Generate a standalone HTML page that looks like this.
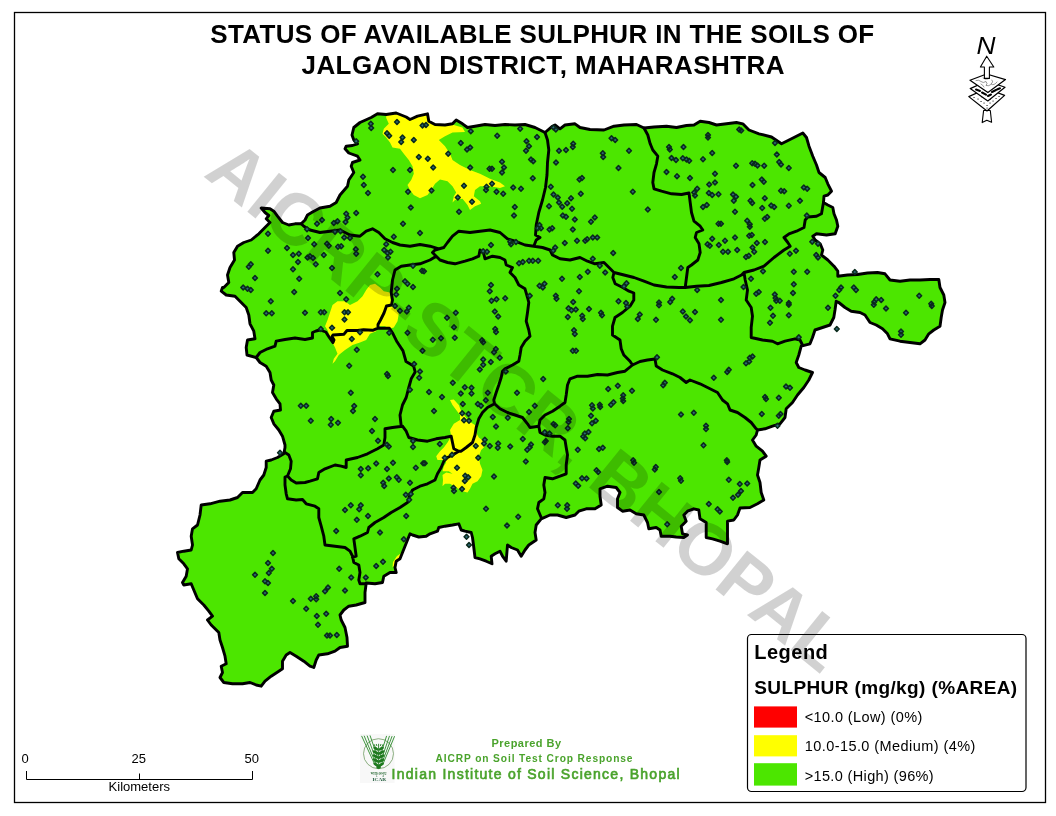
<!DOCTYPE html>
<html><head><meta charset="utf-8"><title>Status of Available Sulphur - Jalgaon</title>
<style>html,body{margin:0;padding:0;background:#fff}body{width:1056px;height:816px;position:relative;overflow:hidden;font-family:"Liberation Sans",Arial,sans-serif}</style></head>
<body>
<svg width="1056" height="816" viewBox="0 0 1056 816" style="position:absolute;left:0;top:0;font-family:'Liberation Sans',Arial,sans-serif">
<defs><clipPath id="mapclip"><path d="M261.2,208 L270,208.8 L273.8,211.2 L277.5,216.2 L282.5,222.5 L288.8,225 L295,223.8 L301.2,223.8 L305,220 L307.5,215 L312.5,212 L320,208 L330,206.2 L336.2,202.5 L340,195 L347.5,186.2 L348.8,180 L353.8,172.5 L351.2,166.2 L352.5,162.5 L360,160 L357.5,156.2 L348.8,153 L345,148.8 L346.2,146.2 L352.5,145.5 L357.5,143.8 L353.8,140 L352,135 L353.8,127.5 L360,122.5 L371.2,117.5 L377.5,113.8 L386.2,114.5 L396.2,113 L406.2,117 L410,119.5 L417.5,116.2 L427.5,113.8 L428.8,121.2 L435,124.5 L445,125 L452.5,123.8 L456.2,120 L462.5,123.8 L467.5,127.5 L475,126.2 L485,124.5 L495,125.5 L505,124.5 L515,125 L525,124.5 L535,127.5 L545,132.5 L552.5,126.2 L555,125 L560,128.8 L565,125 L575,123.8 L580,127.5 L590,129.5 L604,130 L614,126.2 L624,125 L636.5,124.5 L644,128 L654,127 L666.5,126.2 L676.5,127.5 L686.5,125.5 L694,125 L700.2,121.2 L709,122.5 L716.5,125 L726.5,123.8 L736.5,122.5 L742.8,123.8 L749,130 L759,133.8 L771.5,137 L781.5,143.8 L791.5,138.8 L802.8,133 L806.5,137.5 L809,146.2 L812.8,156.2 L816.5,165 L819,172.5 L825.2,177.5 L827.8,183.8 L831.5,191.2 L827.8,195 L824,196.2 L823.5,202.5 L827.8,205 L832.8,207.5 L834,213.8 L836.5,220 L837.8,226.2 L835.2,233.8 L826.5,235 L816.5,233.8 L812.8,236.2 L815.2,240 L820.2,243.8 L822.8,250 L821.5,255 L827.8,260 L834,266.2 L837.8,271.2 L837.8,276.2 L847.5,275 L857.5,274.5 L867.5,273 L877.5,272.5 L885,273.8 L890,280 L900,281.2 L910,280 L920,280 L930,279.5 L938.8,279.5 L940,287.5 L943.8,295 L945,302.5 L942.5,310 L941.2,317.5 L940,326.2 L933.8,330 L928.8,333.8 L925,340 L920,343.8 L910,342.5 L900,341.2 L890,338.8 L887.5,333.8 L882.5,328.8 L876.2,325 L870,322.5 L865,315 L860,312.5 L851.2,311.2 L845,307.5 L838.8,302.5 L836.2,301.2 L835,310 L833.8,317.5 L830,325 L822.5,327.5 L815,330 L812.5,337.5 L810,343.8 L801.2,346.2 L798.8,355 L796.2,362.5 L798.8,367.5 L805,370 L812.5,372.5 L808.8,380 L803.8,387.5 L797.5,395 L792.5,402.5 L786.2,408.8 L785,417.5 L780,423.8 L772.5,426.2 L765,428.8 L757.5,430 L756.2,435 L752.5,440 L756.2,446.2 L762.5,451.2 L766.2,456.2 L760,460 L758.8,467.5 L757.5,475 L760,482.5 L761.2,492.5 L763.8,500 L757.5,503.8 L750,507.5 L740,508 L737.5,515 L733.8,520 L727.5,521.2 L727.5,543.8 L720,541.2 L712.5,538.8 L706.2,537.5 L706.2,522.5 L700,518.8 L698.8,510 L693.8,508.8 L687.5,511.2 L683.8,515 L686.2,521.2 L681.2,526.2 L682.5,533.8 L687.5,535 L683.8,537.5 L676.2,537 L670,536.2 L661.2,536.2 L660,530 L656.2,527.5 L648.8,528.8 L647.5,522.5 L643.8,515 L636.2,513.8 L630,510 L622.5,511.2 L617.5,507.5 L617.5,498.8 L620,492.5 L616.2,487.5 L607.5,486.2 L600,488.8 L600,496.2 L601.2,505 L595,508.8 L586.2,508.8 L578.8,511.2 L575,515 L566.2,517.5 L557.5,515 L550,515 L541.2,518.8 L536.2,525 L535,532.5 L536.2,540 L528.8,545 L525,550 L521.2,556.2 L517.5,550 L511.2,547.5 L507.5,545 L506.2,561.2 L502.5,556.2 L500,551.2 L495,553.8 L491.2,556.2 L492,563.8 L486.2,561.2 L480,558.8 L475,557.5 L473.8,547.5 L472.5,537.5 L471.2,532.5 L465,531.2 L461.2,530 L458.8,523.8 L452.5,525 L445,526.2 L438.8,527.5 L437.5,531.2 L430,533.8 L426.2,536.2 L418.8,537 L412.5,535 L410,533.8 L407.5,540 L405,546.2 L402.5,552.5 L400,558.8 L396.2,561.2 L395,567.5 L396.2,572.5 L390,572.5 L383.8,576.2 L382.5,582.5 L375,583.8 L366.2,583 L365,592.5 L365,602.5 L356.2,605 L348.8,606.2 L343.8,610 L340,615 L341.2,620 L345,627.5 L347,637.5 L347.5,646.2 L340,647.5 L335,651.2 L327.5,653.8 L318.8,655 L316.2,660 L313.8,667.5 L310,666.2 L303.8,661.2 L296.2,656.2 L290,652.5 L286.2,655 L282.5,661.2 L282.5,668.8 L278.8,671.2 L271.2,676.2 L265,681.2 L261.2,686.2 L256.2,685 L250,682.5 L242.5,683.8 L232.5,683.8 L223.8,682.5 L220,677.5 L222.5,672.5 L221.2,666.2 L226.2,663.8 L225,656.2 L222.5,647.5 L220,640 L218.8,632.5 L211.2,625 L207.5,620 L212.5,616.2 L208.8,611.2 L203.8,605 L197.5,598.8 L193.8,590 L191.2,583.8 L183.8,585 L182.5,582.5 L186.2,576.2 L187.5,568.8 L183.8,563.8 L178.8,558.8 L177.5,552.5 L183.8,551.2 L191.2,550 L192.5,545 L191.2,536.2 L192.5,528.8 L197.5,525 L200,515 L201.2,505 L210,503.8 L220,501.2 L230,500 L237.5,497.5 L242.5,492.5 L252.5,492.5 L256.2,488.8 L260,480 L263.8,475 L266.2,467.5 L266.2,461.2 L271.2,460 L277.5,457.5 L283.8,453.8 L285,447.5 L285,445 L282.5,436.2 L278.8,430 L273.8,423.8 L271.2,417.5 L273.8,411.2 L280.5,410 L280,403.8 L276.2,398.8 L272.5,392.5 L273.8,385 L271.2,380 L270,372.5 L266.2,366.2 L260,362.5 L256.2,357.5 L247,355 L246.2,347.5 L247.5,340 L255,338.8 L253.8,331.2 L250,323.8 L248.8,315 L246.2,307.5 L240,301.2 L235,296.2 L226.2,295 L221.2,291.2 L222.5,287.5 L223.8,287.5 L228.8,282.5 L227.5,275 L230,267.5 L234.5,260 L233.8,252.5 L237.5,246.2 L243.8,242.5 L251.2,240 L258.8,233.8 L265,227.5 L270,222.5 L266.2,218.8 L268.8,215.5 L265,212.5Z"/></clipPath>
</defs>
<rect x="14.5" y="12.5" width="1031" height="790" fill="#fff" stroke="#000" stroke-width="1.3"/>
<path d="M261.2,208 L270,208.8 L273.8,211.2 L277.5,216.2 L282.5,222.5 L288.8,225 L295,223.8 L301.2,223.8 L305,220 L307.5,215 L312.5,212 L320,208 L330,206.2 L336.2,202.5 L340,195 L347.5,186.2 L348.8,180 L353.8,172.5 L351.2,166.2 L352.5,162.5 L360,160 L357.5,156.2 L348.8,153 L345,148.8 L346.2,146.2 L352.5,145.5 L357.5,143.8 L353.8,140 L352,135 L353.8,127.5 L360,122.5 L371.2,117.5 L377.5,113.8 L386.2,114.5 L396.2,113 L406.2,117 L410,119.5 L417.5,116.2 L427.5,113.8 L428.8,121.2 L435,124.5 L445,125 L452.5,123.8 L456.2,120 L462.5,123.8 L467.5,127.5 L475,126.2 L485,124.5 L495,125.5 L505,124.5 L515,125 L525,124.5 L535,127.5 L545,132.5 L552.5,126.2 L555,125 L560,128.8 L565,125 L575,123.8 L580,127.5 L590,129.5 L604,130 L614,126.2 L624,125 L636.5,124.5 L644,128 L654,127 L666.5,126.2 L676.5,127.5 L686.5,125.5 L694,125 L700.2,121.2 L709,122.5 L716.5,125 L726.5,123.8 L736.5,122.5 L742.8,123.8 L749,130 L759,133.8 L771.5,137 L781.5,143.8 L791.5,138.8 L802.8,133 L806.5,137.5 L809,146.2 L812.8,156.2 L816.5,165 L819,172.5 L825.2,177.5 L827.8,183.8 L831.5,191.2 L827.8,195 L824,196.2 L823.5,202.5 L827.8,205 L832.8,207.5 L834,213.8 L836.5,220 L837.8,226.2 L835.2,233.8 L826.5,235 L816.5,233.8 L812.8,236.2 L815.2,240 L820.2,243.8 L822.8,250 L821.5,255 L827.8,260 L834,266.2 L837.8,271.2 L837.8,276.2 L847.5,275 L857.5,274.5 L867.5,273 L877.5,272.5 L885,273.8 L890,280 L900,281.2 L910,280 L920,280 L930,279.5 L938.8,279.5 L940,287.5 L943.8,295 L945,302.5 L942.5,310 L941.2,317.5 L940,326.2 L933.8,330 L928.8,333.8 L925,340 L920,343.8 L910,342.5 L900,341.2 L890,338.8 L887.5,333.8 L882.5,328.8 L876.2,325 L870,322.5 L865,315 L860,312.5 L851.2,311.2 L845,307.5 L838.8,302.5 L836.2,301.2 L835,310 L833.8,317.5 L830,325 L822.5,327.5 L815,330 L812.5,337.5 L810,343.8 L801.2,346.2 L798.8,355 L796.2,362.5 L798.8,367.5 L805,370 L812.5,372.5 L808.8,380 L803.8,387.5 L797.5,395 L792.5,402.5 L786.2,408.8 L785,417.5 L780,423.8 L772.5,426.2 L765,428.8 L757.5,430 L756.2,435 L752.5,440 L756.2,446.2 L762.5,451.2 L766.2,456.2 L760,460 L758.8,467.5 L757.5,475 L760,482.5 L761.2,492.5 L763.8,500 L757.5,503.8 L750,507.5 L740,508 L737.5,515 L733.8,520 L727.5,521.2 L727.5,543.8 L720,541.2 L712.5,538.8 L706.2,537.5 L706.2,522.5 L700,518.8 L698.8,510 L693.8,508.8 L687.5,511.2 L683.8,515 L686.2,521.2 L681.2,526.2 L682.5,533.8 L687.5,535 L683.8,537.5 L676.2,537 L670,536.2 L661.2,536.2 L660,530 L656.2,527.5 L648.8,528.8 L647.5,522.5 L643.8,515 L636.2,513.8 L630,510 L622.5,511.2 L617.5,507.5 L617.5,498.8 L620,492.5 L616.2,487.5 L607.5,486.2 L600,488.8 L600,496.2 L601.2,505 L595,508.8 L586.2,508.8 L578.8,511.2 L575,515 L566.2,517.5 L557.5,515 L550,515 L541.2,518.8 L536.2,525 L535,532.5 L536.2,540 L528.8,545 L525,550 L521.2,556.2 L517.5,550 L511.2,547.5 L507.5,545 L506.2,561.2 L502.5,556.2 L500,551.2 L495,553.8 L491.2,556.2 L492,563.8 L486.2,561.2 L480,558.8 L475,557.5 L473.8,547.5 L472.5,537.5 L471.2,532.5 L465,531.2 L461.2,530 L458.8,523.8 L452.5,525 L445,526.2 L438.8,527.5 L437.5,531.2 L430,533.8 L426.2,536.2 L418.8,537 L412.5,535 L410,533.8 L407.5,540 L405,546.2 L402.5,552.5 L400,558.8 L396.2,561.2 L395,567.5 L396.2,572.5 L390,572.5 L383.8,576.2 L382.5,582.5 L375,583.8 L366.2,583 L365,592.5 L365,602.5 L356.2,605 L348.8,606.2 L343.8,610 L340,615 L341.2,620 L345,627.5 L347,637.5 L347.5,646.2 L340,647.5 L335,651.2 L327.5,653.8 L318.8,655 L316.2,660 L313.8,667.5 L310,666.2 L303.8,661.2 L296.2,656.2 L290,652.5 L286.2,655 L282.5,661.2 L282.5,668.8 L278.8,671.2 L271.2,676.2 L265,681.2 L261.2,686.2 L256.2,685 L250,682.5 L242.5,683.8 L232.5,683.8 L223.8,682.5 L220,677.5 L222.5,672.5 L221.2,666.2 L226.2,663.8 L225,656.2 L222.5,647.5 L220,640 L218.8,632.5 L211.2,625 L207.5,620 L212.5,616.2 L208.8,611.2 L203.8,605 L197.5,598.8 L193.8,590 L191.2,583.8 L183.8,585 L182.5,582.5 L186.2,576.2 L187.5,568.8 L183.8,563.8 L178.8,558.8 L177.5,552.5 L183.8,551.2 L191.2,550 L192.5,545 L191.2,536.2 L192.5,528.8 L197.5,525 L200,515 L201.2,505 L210,503.8 L220,501.2 L230,500 L237.5,497.5 L242.5,492.5 L252.5,492.5 L256.2,488.8 L260,480 L263.8,475 L266.2,467.5 L266.2,461.2 L271.2,460 L277.5,457.5 L283.8,453.8 L285,447.5 L285,445 L282.5,436.2 L278.8,430 L273.8,423.8 L271.2,417.5 L273.8,411.2 L280.5,410 L280,403.8 L276.2,398.8 L272.5,392.5 L273.8,385 L271.2,380 L270,372.5 L266.2,366.2 L260,362.5 L256.2,357.5 L247,355 L246.2,347.5 L247.5,340 L255,338.8 L253.8,331.2 L250,323.8 L248.8,315 L246.2,307.5 L240,301.2 L235,296.2 L226.2,295 L221.2,291.2 L222.5,287.5 L223.8,287.5 L228.8,282.5 L227.5,275 L230,267.5 L234.5,260 L233.8,252.5 L237.5,246.2 L243.8,242.5 L251.2,240 L258.8,233.8 L265,227.5 L270,222.5 L266.2,218.8 L268.8,215.5 L265,212.5Z" fill="#4ce600"/>
<g clip-path="url(#mapclip)" fill="#ffff00">
<path d="M386.2,112 L428.8,112 L428.8,121.2 L435,125 L445,125 L453.8,125 L462.5,127.5 L465,132 L452.5,132.5 L445,136.2 L438.8,140 L445,146.2 L450,153.8 L452.5,160 L460,165 L470,170 L480,173.8 L490,178.8 L500,182.5 L505,186.2 L500,188 L490,186.2 L480,186.2 L475,190 L473.8,196.2 L480,201.2 L481.2,203.8 L475,206.2 L470,210 L467.5,205 L462.5,198.8 L455,200 L452.5,202.5 L453.8,196.2 L456.2,192.5 L452.5,186.2 L447.5,181.2 L440,179.5 L435,183.8 L431.2,190 L427.5,195 L420,198.2 L413.8,195 L410,190 L407.5,185 L411.2,180 L413.8,173.8 L412.5,166.2 L408.8,160 L403.8,153.8 L400,148.8 L392.5,147.5 L390,142.5 L386.2,137.5 L382.5,133.8 L383.8,128.8 L388.8,123.8 L386.2,118Z"/>
<path d="M370,285 L375,283.8 L380,287.5 L383.8,291.2 L390,292.5 L391.2,305 L395,307.5 L398.8,313.8 L397.5,321.2 L393.8,327.5 L388.8,328.8 L385,326.2 L377.5,326.2 L376.2,331.2 L370,333.8 L366.2,340 L360,342.5 L352.5,345 L345,350 L338.8,355 L335,361.2 L332.5,363.8 L333.8,358.8 L337.5,353.8 L335,347.5 L332.5,342.5 L330,336.2 L327.5,330 L325,326.2 L327.5,320 L330,312.5 L332.5,305 L337.5,301.2 L345,301.2 L350,305 L357.5,301.2 L362.5,296.2 L366.2,290Z"/>
<path d="M450,400 L453.8,399.5 L458.8,405 L461.2,411.2 L465,416.2 L468.8,421.2 L475,425 L476.2,432.5 L478.8,437.5 L483.8,441.2 L485,446.2 L481.2,450 L478.8,456.2 L480,463.8 L482.5,470 L481.2,476.2 L477.5,481.2 L472.5,483.8 L470,488.8 L467.5,492.5 L462.5,491.2 L456.2,487.5 L450,483.8 L445,483.8 L442.5,486.2 L443,480 L442.5,475 L446.2,472.5 L452.5,473.8 L448.8,471.2 L442.5,471.2 L443.8,466.2 L446.2,462.5 L445,460 L437.5,460 L436.2,456.2 L440,451.2 L443.8,447.5 L447.5,442.5 L451.2,436.2 L450,430 L453.8,423.8 L460,420 L460,415 L456.2,410 L452.5,405Z"/>
<path d="M401.5,553 L397,556 L393,562 L392.5,567.5 L396,563.5 L400.5,559Z"/>
<path d="M333.5,327l2.2,.8l-1.6,1.4z" fill="#e03000"/>
</g>
<g fill="none" stroke="#000" stroke-width="2.9" stroke-linejoin="round" stroke-linecap="round">
<path d="M261.2,208 L270,208.8 L273.8,211.2 L277.5,216.2 L282.5,222.5 L288.8,225 L295,223.8 L301.2,223.8 L305,220 L307.5,215 L312.5,212 L320,208 L330,206.2 L336.2,202.5 L340,195 L347.5,186.2 L348.8,180 L353.8,172.5 L351.2,166.2 L352.5,162.5 L360,160 L357.5,156.2 L348.8,153 L345,148.8 L346.2,146.2 L352.5,145.5 L357.5,143.8 L353.8,140 L352,135 L353.8,127.5 L360,122.5 L371.2,117.5 L377.5,113.8 L386.2,114.5 L396.2,113 L406.2,117 L410,119.5 L417.5,116.2 L427.5,113.8 L428.8,121.2 L435,124.5 L445,125 L452.5,123.8 L456.2,120 L462.5,123.8 L467.5,127.5 L475,126.2 L485,124.5 L495,125.5 L505,124.5 L515,125 L525,124.5 L535,127.5 L545,132.5 L552.5,126.2 L555,125 L560,128.8 L565,125 L575,123.8 L580,127.5 L590,129.5 L604,130 L614,126.2 L624,125 L636.5,124.5 L644,128 L654,127 L666.5,126.2 L676.5,127.5 L686.5,125.5 L694,125 L700.2,121.2 L709,122.5 L716.5,125 L726.5,123.8 L736.5,122.5 L742.8,123.8 L749,130 L759,133.8 L771.5,137 L781.5,143.8 L791.5,138.8 L802.8,133 L806.5,137.5 L809,146.2 L812.8,156.2 L816.5,165 L819,172.5 L825.2,177.5 L827.8,183.8 L831.5,191.2 L827.8,195 L824,196.2 L823.5,202.5 L827.8,205 L832.8,207.5 L834,213.8 L836.5,220 L837.8,226.2 L835.2,233.8 L826.5,235 L816.5,233.8 L812.8,236.2 L815.2,240 L820.2,243.8 L822.8,250 L821.5,255 L827.8,260 L834,266.2 L837.8,271.2 L837.8,276.2 L847.5,275 L857.5,274.5 L867.5,273 L877.5,272.5 L885,273.8 L890,280 L900,281.2 L910,280 L920,280 L930,279.5 L938.8,279.5 L940,287.5 L943.8,295 L945,302.5 L942.5,310 L941.2,317.5 L940,326.2 L933.8,330 L928.8,333.8 L925,340 L920,343.8 L910,342.5 L900,341.2 L890,338.8 L887.5,333.8 L882.5,328.8 L876.2,325 L870,322.5 L865,315 L860,312.5 L851.2,311.2 L845,307.5 L838.8,302.5 L836.2,301.2 L835,310 L833.8,317.5 L830,325 L822.5,327.5 L815,330 L812.5,337.5 L810,343.8 L801.2,346.2 L798.8,355 L796.2,362.5 L798.8,367.5 L805,370 L812.5,372.5 L808.8,380 L803.8,387.5 L797.5,395 L792.5,402.5 L786.2,408.8 L785,417.5 L780,423.8 L772.5,426.2 L765,428.8 L757.5,430 L756.2,435 L752.5,440 L756.2,446.2 L762.5,451.2 L766.2,456.2 L760,460 L758.8,467.5 L757.5,475 L760,482.5 L761.2,492.5 L763.8,500 L757.5,503.8 L750,507.5 L740,508 L737.5,515 L733.8,520 L727.5,521.2 L727.5,543.8 L720,541.2 L712.5,538.8 L706.2,537.5 L706.2,522.5 L700,518.8 L698.8,510 L693.8,508.8 L687.5,511.2 L683.8,515 L686.2,521.2 L681.2,526.2 L682.5,533.8 L687.5,535 L683.8,537.5 L676.2,537 L670,536.2 L661.2,536.2 L660,530 L656.2,527.5 L648.8,528.8 L647.5,522.5 L643.8,515 L636.2,513.8 L630,510 L622.5,511.2 L617.5,507.5 L617.5,498.8 L620,492.5 L616.2,487.5 L607.5,486.2 L600,488.8 L600,496.2 L601.2,505 L595,508.8 L586.2,508.8 L578.8,511.2 L575,515 L566.2,517.5 L557.5,515 L550,515 L541.2,518.8 L536.2,525 L535,532.5 L536.2,540 L528.8,545 L525,550 L521.2,556.2 L517.5,550 L511.2,547.5 L507.5,545 L506.2,561.2 L502.5,556.2 L500,551.2 L495,553.8 L491.2,556.2 L492,563.8 L486.2,561.2 L480,558.8 L475,557.5 L473.8,547.5 L472.5,537.5 L471.2,532.5 L465,531.2 L461.2,530 L458.8,523.8 L452.5,525 L445,526.2 L438.8,527.5 L437.5,531.2 L430,533.8 L426.2,536.2 L418.8,537 L412.5,535 L410,533.8 L407.5,540 L405,546.2 L402.5,552.5 L400,558.8 L396.2,561.2 L395,567.5 L396.2,572.5 L390,572.5 L383.8,576.2 L382.5,582.5 L375,583.8 L366.2,583 L365,592.5 L365,602.5 L356.2,605 L348.8,606.2 L343.8,610 L340,615 L341.2,620 L345,627.5 L347,637.5 L347.5,646.2 L340,647.5 L335,651.2 L327.5,653.8 L318.8,655 L316.2,660 L313.8,667.5 L310,666.2 L303.8,661.2 L296.2,656.2 L290,652.5 L286.2,655 L282.5,661.2 L282.5,668.8 L278.8,671.2 L271.2,676.2 L265,681.2 L261.2,686.2 L256.2,685 L250,682.5 L242.5,683.8 L232.5,683.8 L223.8,682.5 L220,677.5 L222.5,672.5 L221.2,666.2 L226.2,663.8 L225,656.2 L222.5,647.5 L220,640 L218.8,632.5 L211.2,625 L207.5,620 L212.5,616.2 L208.8,611.2 L203.8,605 L197.5,598.8 L193.8,590 L191.2,583.8 L183.8,585 L182.5,582.5 L186.2,576.2 L187.5,568.8 L183.8,563.8 L178.8,558.8 L177.5,552.5 L183.8,551.2 L191.2,550 L192.5,545 L191.2,536.2 L192.5,528.8 L197.5,525 L200,515 L201.2,505 L210,503.8 L220,501.2 L230,500 L237.5,497.5 L242.5,492.5 L252.5,492.5 L256.2,488.8 L260,480 L263.8,475 L266.2,467.5 L266.2,461.2 L271.2,460 L277.5,457.5 L283.8,453.8 L285,447.5 L285,445 L282.5,436.2 L278.8,430 L273.8,423.8 L271.2,417.5 L273.8,411.2 L280.5,410 L280,403.8 L276.2,398.8 L272.5,392.5 L273.8,385 L271.2,380 L270,372.5 L266.2,366.2 L260,362.5 L256.2,357.5 L247,355 L246.2,347.5 L247.5,340 L255,338.8 L253.8,331.2 L250,323.8 L248.8,315 L246.2,307.5 L240,301.2 L235,296.2 L226.2,295 L221.2,291.2 L222.5,287.5 L223.8,287.5 L228.8,282.5 L227.5,275 L230,267.5 L234.5,260 L233.8,252.5 L237.5,246.2 L243.8,242.5 L251.2,240 L258.8,233.8 L265,227.5 L270,222.5 L266.2,218.8 L268.8,215.5 L265,212.5Z"/>
<path d="M301.2,223.8 L303.8,226.2 L310,230 L320,232.5 L330,231.2 L340,230 L350,235 L360,236.2 L366.2,231.2 L372.5,228.8 L378.8,232.5 L385,238.8 L392.5,242.5 L400,245 L410,246.2 L420,244.5 L430,246.2 L438.8,248.8 L443.8,247.5 M443.8,247.5 L447.5,242.5 L452.5,236.2 L458.8,231.2 L470,232.5 L480,231.2 L490,230 L500,232.5 L507.5,238.8 L515,241.2 L525,245 L533.8,246.2 L542.5,247.5 L550,250 L552.5,255 L560,258.8 L570,260 L580,257.5 L587.5,261.2 L595,263.8 L604,262.5 L609,267.5 L614,272.5 L624,275 L634,277.5 L644,281.2 L654,285 L666.5,287 L679,287.5 L685.2,287.5 L696.5,286.2 L709,285.5 L721.5,282.5 L734,278.8 L741.5,275 L744,272.5 L754,270 L764,266.2 L774,257.5 L784,250 L790.2,246.2 L787.8,242.5 L784,237.5 L789,233.8 L796.5,231.2 L804,227.5 L805.2,220 L807.8,217 L816.5,216.2 L821.5,213.8 L822.8,206.2 L823.5,202.5 M545,132.5 L547.5,140 L548.8,150 L547.5,162.5 L547,175 L545.5,187.5 L542.5,200 L538.8,212.5 L536.2,225 L535.5,235 L540,237.5 L536.2,240 L533.8,246.2 M644,128 L647.8,135 L650.2,143.8 L652.8,150 L657.8,156.2 L656.5,163.8 L654,172.5 L652.8,182.5 L654,188.8 L661.5,191.2 L671.5,193.8 L681.5,194.5 L689,193 L690.2,202.5 L691.5,212.5 L694,221.2 L700.2,226.2 L702.8,230 L696.5,232.5 L695.2,237.5 L699,243.8 L700.2,252.5 L697.8,260 L691.5,265 L687.8,267.5 L686.5,277.5 L685.2,287.5 M443.8,247.5 L435,250 L432.5,252.5 L436.2,256.2 L430,260 L420,263.8 L410,265 L401.2,266.2 L395,270 L392.5,280 L391.2,292.5 L392.5,300 L391.5,305 L386.5,306 L384,313 L380.5,320 L378,324.5 L378,328.2 M436.2,256.2 L440,260 L447.5,262.5 L455,263.8 L465,261.2 L472.5,258.8 L478.8,256.2 L480,250 L483.8,253.8 L485,258.8 L492.5,256.2 L500,257.5 L505,260 L506.2,265 L512.5,267.5 L510,272.5 L515,277.5 L518.8,285 L525,288.8 L527.5,297.5 L528.8,302.5 L527.5,312.5 L526.2,321.2 L528.8,330 L530,336.2 L525,341.2 L521.2,347.5 L520,355 L518.8,361.2 L512.5,365 L505,368.8 L502.5,371.2 L501.2,377.5 L498.8,385 L496.2,392.5 L493.8,400 L494.5,403.8 M494.5,403.8 L487.5,407.5 L482.5,412.5 L478.8,418.8 L476.2,427.5 L475,435 L472.5,442.5 L466.2,447.5 L461.2,451.2 L458.8,451.2 L452.5,455 L447.5,457.5 L443.8,461.2 L441.2,467.5 L437.5,473.8 L435,480 L427.5,483.8 L420,486.2 L412.5,490 L410,495 L407.5,502.5 L400,507.5 L391.2,512.5 L383.8,517.5 L375,522.5 L368.8,527.5 L367.5,532.5 L360,536.2 L353.8,538.8 L355,547.5 L356.2,556.2 L352.5,557.5 M494.5,403.8 L500,408.8 L507.5,412.5 L515,415 L522.5,417.5 L527.5,423.8 L530,427.5 L538.8,426.2 M538.8,426.2 L540,420 L545,415 L552.5,411.2 L560,406.2 L565,402.5 L566.2,395 L567.5,385 L570,378.8 L577.5,376.2 L587.5,376.2 L597.5,374.5 L607.5,375 L617.5,372.5 L625,371.2 L632.5,365 M538.8,426.2 L540,432.5 L545,435 L552.5,436.2 L560,436.2 L565,440 L566.2,447.5 L567.5,455 L566.2,465 L566.2,473.8 L560,476.2 L552.5,478.8 L545,477.5 L543.8,485 L545,492.5 L543.8,498.8 L538.8,502.5 L537.5,508.8 L541.2,517.5 M614,272.5 L612.8,277.5 L615.2,283.8 L622.8,287.5 L629,291.2 L633.8,293 L633.8,300 L630,306.2 L622.5,312.5 L615,317.5 L612.5,326.2 L612.5,335 L620,340 L621.2,348.8 L623.8,355 L630,361.2 L632.5,365 M632.5,365 L640,361.5 L647.5,360 L655,359 L656.2,366 L662.5,370 L672.5,373.8 L680,377.5 L686.2,382.5 L690,380 L700,383.8 L710,388.8 L717.5,392.5 L722.5,400 L727.5,403.8 L730,410 L737.5,412.5 L745,417.5 L751.2,422.5 L756.2,428.8 L757.5,430 M744,272.5 L745.2,280 L747.5,290 L746.2,300 L751.2,307.5 L752.5,316.2 L751.2,327.5 L751.2,337.5 L762.5,340 L772.5,341.2 L777.5,343.8 L785,341.2 L795,338.8 L800,340 L802.5,345 M256.2,357.5 L260,352.5 L267.5,348.8 L275,346.2 L276.2,341.2 L285,339.5 L295,338 L305,339.5 L312.5,338 L312.5,332.5 L316,331 L320,330 L325.8,332 L329,337 L333,342.6 L334,340 L332,336.5 L333,335 L344,334.2 L347,330.5 L357.6,330.5 L363.6,329.7 L372.7,330.3 L378,328.2 M378,328.2 L389.4,328.2 L392.4,332.7 L397,341.8 L403,350.9 L406,361.5 L413.6,366 L415.2,372.1 L411.2,378.8 L408.8,387.5 L406.2,397.5 L402.5,405 L400,415 L401.2,426.2 L402.5,426.2 M402.5,426.2 L406.2,431.2 L408.8,437.5 L417.5,440 L427.5,441.2 L436.2,438.8 L445,437.5 L451.2,436.2 L452.5,442.5 L453.8,448.8 L458.8,451.2 M402.5,426.2 L392.5,427.5 L385,428.8 L385,437.5 L383.8,445 L377.5,448.8 L367.5,453.8 L357.5,457.5 L346.2,460 L346.2,467.5 L341.2,466.2 L335,465 L325,468.8 L318.8,472.5 L317.5,478.8 L310,481.2 L305,482.5 L296.2,483 L291.2,480 L287.5,476 M285,452.5 L288.8,455 L291.2,461.2 L290.5,468.8 L287.5,476 L285,477 L285,485 L286.2,493.8 L287.5,498.8 L296.2,500 L302.5,499.5 L306.2,503.8 L315,506.2 L318.8,508.8 L318.8,517.5 L321.2,526.2 L323.8,536.2 L325,545 L335,546.2 L345,547.5 L350,551.2 L352.5,556.2 L353.8,562.5 L358.8,565 L360,572.5 L358.8,580 L360,583.8 L365,583.8"/>
</g>
<path d="M370.8,121.3l2.4,2.4l-2.4,2.4l-2.4,-2.4zM371.2,125.6l2.4,2.4l-2.4,2.4l-2.4,-2.4zM397,119.6l2.4,2.4l-2.4,2.4l-2.4,-2.4zM422.5,123.1l2.4,2.4l-2.4,2.4l-2.4,-2.4zM387,130.8l2.4,2.4l-2.4,2.4l-2.4,-2.4zM389.2,133.3l2.4,2.4l-2.4,2.4l-2.4,-2.4zM402.5,135.1l2.4,2.4l-2.4,2.4l-2.4,-2.4zM401.2,139.6l2.4,2.4l-2.4,2.4l-2.4,-2.4zM413.8,137.6l2.4,2.4l-2.4,2.4l-2.4,-2.4zM356.2,138.8l2.4,2.4l-2.4,2.4l-2.4,-2.4zM418.8,154.6l2.4,2.4l-2.4,2.4l-2.4,-2.4zM393,167.6l2.4,2.4l-2.4,2.4l-2.4,-2.4zM410,167.6l2.4,2.4l-2.4,2.4l-2.4,-2.4zM363,174.3l2.4,2.4l-2.4,2.4l-2.4,-2.4zM363.8,182.6l2.4,2.4l-2.4,2.4l-2.4,-2.4zM368,190.6l2.4,2.4l-2.4,2.4l-2.4,-2.4zM408,189.3l2.4,2.4l-2.4,2.4l-2.4,-2.4zM410.8,205.1l2.4,2.4l-2.4,2.4l-2.4,-2.4zM403,221.3l2.4,2.4l-2.4,2.4l-2.4,-2.4zM393.8,234.3l2.4,2.4l-2.4,2.4l-2.4,-2.4zM420,230.6l2.4,2.4l-2.4,2.4l-2.4,-2.4zM346.2,211.3l2.4,2.4l-2.4,2.4l-2.4,-2.4zM356.2,210.6l2.4,2.4l-2.4,2.4l-2.4,-2.4zM347.5,215.1l2.4,2.4l-2.4,2.4l-2.4,-2.4zM345.5,219.6l2.4,2.4l-2.4,2.4l-2.4,-2.4zM337.5,218.8l2.4,2.4l-2.4,2.4l-2.4,-2.4zM333.8,220.6l2.4,2.4l-2.4,2.4l-2.4,-2.4zM322,217.6l2.4,2.4l-2.4,2.4l-2.4,-2.4zM317,221.3l2.4,2.4l-2.4,2.4l-2.4,-2.4zM307,226.8l2.4,2.4l-2.4,2.4l-2.4,-2.4zM335,229.3l2.4,2.4l-2.4,2.4l-2.4,-2.4zM340.5,228.8l2.4,2.4l-2.4,2.4l-2.4,-2.4zM308,235.6l2.4,2.4l-2.4,2.4l-2.4,-2.4zM344.2,235.1l2.4,2.4l-2.4,2.4l-2.4,-2.4zM350,235.6l2.4,2.4l-2.4,2.4l-2.4,-2.4zM314.2,241.8l2.4,2.4l-2.4,2.4l-2.4,-2.4zM327,241.3l2.4,2.4l-2.4,2.4l-2.4,-2.4zM328.8,243.3l2.4,2.4l-2.4,2.4l-2.4,-2.4zM338,244.3l2.4,2.4l-2.4,2.4l-2.4,-2.4zM341.2,243.8l2.4,2.4l-2.4,2.4l-2.4,-2.4zM355.8,246.8l2.4,2.4l-2.4,2.4l-2.4,-2.4zM356.2,251.3l2.4,2.4l-2.4,2.4l-2.4,-2.4zM268,231.3l2.4,2.4l-2.4,2.4l-2.4,-2.4zM268,248.3l2.4,2.4l-2.4,2.4l-2.4,-2.4zM287,245.6l2.4,2.4l-2.4,2.4l-2.4,-2.4zM293,252.6l2.4,2.4l-2.4,2.4l-2.4,-2.4zM298.8,251.3l2.4,2.4l-2.4,2.4l-2.4,-2.4zM307.5,255.1l2.4,2.4l-2.4,2.4l-2.4,-2.4zM310,253.8l2.4,2.4l-2.4,2.4l-2.4,-2.4zM313,255.6l2.4,2.4l-2.4,2.4l-2.4,-2.4zM315.8,261.9l2.4,2.4l-2.4,2.4l-2.4,-2.4zM323.8,252.6l2.4,2.4l-2.4,2.4l-2.4,-2.4zM332,265.6l2.4,2.4l-2.4,2.4l-2.4,-2.4zM298,259.6l2.4,2.4l-2.4,2.4l-2.4,-2.4zM293,266.9l2.4,2.4l-2.4,2.4l-2.4,-2.4zM299.2,276.4l2.4,2.4l-2.4,2.4l-2.4,-2.4zM294.2,289.6l2.4,2.4l-2.4,2.4l-2.4,-2.4zM250.8,261.9l2.4,2.4l-2.4,2.4l-2.4,-2.4zM248.8,264.4l2.4,2.4l-2.4,2.4l-2.4,-2.4zM255,275.6l2.4,2.4l-2.4,2.4l-2.4,-2.4zM243.2,285.1l2.4,2.4l-2.4,2.4l-2.4,-2.4zM247.5,286.4l2.4,2.4l-2.4,2.4l-2.4,-2.4zM250.8,287.6l2.4,2.4l-2.4,2.4l-2.4,-2.4zM270.8,298.9l2.4,2.4l-2.4,2.4l-2.4,-2.4zM340,290.6l2.4,2.4l-2.4,2.4l-2.4,-2.4zM346.2,296.9l2.4,2.4l-2.4,2.4l-2.4,-2.4zM377.5,271.9l2.4,2.4l-2.4,2.4l-2.4,-2.4zM386.2,241.8l2.4,2.4l-2.4,2.4l-2.4,-2.4zM384.2,247.6l2.4,2.4l-2.4,2.4l-2.4,-2.4zM387.5,250.6l2.4,2.4l-2.4,2.4l-2.4,-2.4zM390.5,249.3l2.4,2.4l-2.4,2.4l-2.4,-2.4zM388,255.1l2.4,2.4l-2.4,2.4l-2.4,-2.4zM413,263.4l2.4,2.4l-2.4,2.4l-2.4,-2.4zM422,268.4l2.4,2.4l-2.4,2.4l-2.4,-2.4zM405,278.9l2.4,2.4l-2.4,2.4l-2.4,-2.4zM407.5,281.4l2.4,2.4l-2.4,2.4l-2.4,-2.4zM413,284.6l2.4,2.4l-2.4,2.4l-2.4,-2.4zM397,286.4l2.4,2.4l-2.4,2.4l-2.4,-2.4zM396.2,292.1l2.4,2.4l-2.4,2.4l-2.4,-2.4zM426,122.6l2.4,2.4l-2.4,2.4l-2.4,-2.4zM470.8,128.8l2.4,2.4l-2.4,2.4l-2.4,-2.4zM520.2,126.3l2.4,2.4l-2.4,2.4l-2.4,-2.4zM497.2,133.3l2.4,2.4l-2.4,2.4l-2.4,-2.4zM537,134.6l2.4,2.4l-2.4,2.4l-2.4,-2.4zM460.8,140.6l2.4,2.4l-2.4,2.4l-2.4,-2.4zM470.2,145.1l2.4,2.4l-2.4,2.4l-2.4,-2.4zM467,147.1l2.4,2.4l-2.4,2.4l-2.4,-2.4zM526.5,138.8l2.4,2.4l-2.4,2.4l-2.4,-2.4zM529,143.8l2.4,2.4l-2.4,2.4l-2.4,-2.4zM526,148.3l2.4,2.4l-2.4,2.4l-2.4,-2.4zM448.2,151.3l2.4,2.4l-2.4,2.4l-2.4,-2.4zM427.8,156.3l2.4,2.4l-2.4,2.4l-2.4,-2.4zM502,159.3l2.4,2.4l-2.4,2.4l-2.4,-2.4zM531,157.1l2.4,2.4l-2.4,2.4l-2.4,-2.4zM533.2,158.8l2.4,2.4l-2.4,2.4l-2.4,-2.4zM433.2,165.1l2.4,2.4l-2.4,2.4l-2.4,-2.4zM470.2,165.1l2.4,2.4l-2.4,2.4l-2.4,-2.4zM489.5,166.3l2.4,2.4l-2.4,2.4l-2.4,-2.4zM492,166.3l2.4,2.4l-2.4,2.4l-2.4,-2.4zM504,165.1l2.4,2.4l-2.4,2.4l-2.4,-2.4zM502,170.1l2.4,2.4l-2.4,2.4l-2.4,-2.4zM532.8,175.8l2.4,2.4l-2.4,2.4l-2.4,-2.4zM464,183.3l2.4,2.4l-2.4,2.4l-2.4,-2.4zM492,181.3l2.4,2.4l-2.4,2.4l-2.4,-2.4zM486.5,184.3l2.4,2.4l-2.4,2.4l-2.4,-2.4zM486,187.6l2.4,2.4l-2.4,2.4l-2.4,-2.4zM513.2,185.1l2.4,2.4l-2.4,2.4l-2.4,-2.4zM521,186.3l2.4,2.4l-2.4,2.4l-2.4,-2.4zM431.5,188.1l2.4,2.4l-2.4,2.4l-2.4,-2.4zM496.5,189.3l2.4,2.4l-2.4,2.4l-2.4,-2.4zM503.2,191.3l2.4,2.4l-2.4,2.4l-2.4,-2.4zM457.8,195.1l2.4,2.4l-2.4,2.4l-2.4,-2.4zM472,199.3l2.4,2.4l-2.4,2.4l-2.4,-2.4zM459,209.3l2.4,2.4l-2.4,2.4l-2.4,-2.4zM514.8,204.6l2.4,2.4l-2.4,2.4l-2.4,-2.4zM514,213.1l2.4,2.4l-2.4,2.4l-2.4,-2.4zM491,242.6l2.4,2.4l-2.4,2.4l-2.4,-2.4zM510.2,239.3l2.4,2.4l-2.4,2.4l-2.4,-2.4zM511,241.8l2.4,2.4l-2.4,2.4l-2.4,-2.4zM516,239.6l2.4,2.4l-2.4,2.4l-2.4,-2.4zM483.2,248.8l2.4,2.4l-2.4,2.4l-2.4,-2.4zM487,249.3l2.4,2.4l-2.4,2.4l-2.4,-2.4zM519,260.9l2.4,2.4l-2.4,2.4l-2.4,-2.4zM522.8,259.6l2.4,2.4l-2.4,2.4l-2.4,-2.4zM529,258.4l2.4,2.4l-2.4,2.4l-2.4,-2.4zM532.8,258.4l2.4,2.4l-2.4,2.4l-2.4,-2.4zM538.2,258.4l2.4,2.4l-2.4,2.4l-2.4,-2.4zM491,282.6l2.4,2.4l-2.4,2.4l-2.4,-2.4zM489.8,288.9l2.4,2.4l-2.4,2.4l-2.4,-2.4zM496.5,296.9l2.4,2.4l-2.4,2.4l-2.4,-2.4zM491.5,298.4l2.4,2.4l-2.4,2.4l-2.4,-2.4zM505.2,295.9l2.4,2.4l-2.4,2.4l-2.4,-2.4zM529.8,293.4l2.4,2.4l-2.4,2.4l-2.4,-2.4zM553.5,125.1l2.4,2.4l-2.4,2.4l-2.4,-2.4zM555.8,127.1l2.4,2.4l-2.4,2.4l-2.4,-2.4zM573.2,141.3l2.4,2.4l-2.4,2.4l-2.4,-2.4zM572.8,144.6l2.4,2.4l-2.4,2.4l-2.4,-2.4zM559,148.3l2.4,2.4l-2.4,2.4l-2.4,-2.4zM566,147.6l2.4,2.4l-2.4,2.4l-2.4,-2.4zM611.5,135.8l2.4,2.4l-2.4,2.4l-2.4,-2.4zM615.2,137.6l2.4,2.4l-2.4,2.4l-2.4,-2.4zM602.8,150.8l2.4,2.4l-2.4,2.4l-2.4,-2.4zM603.2,154.6l2.4,2.4l-2.4,2.4l-2.4,-2.4zM629,148.3l2.4,2.4l-2.4,2.4l-2.4,-2.4zM618.5,165.6l2.4,2.4l-2.4,2.4l-2.4,-2.4zM556,160.1l2.4,2.4l-2.4,2.4l-2.4,-2.4zM579.5,177.1l2.4,2.4l-2.4,2.4l-2.4,-2.4zM582,175.6l2.4,2.4l-2.4,2.4l-2.4,-2.4zM550.8,184.3l2.4,2.4l-2.4,2.4l-2.4,-2.4zM553.5,192.1l2.4,2.4l-2.4,2.4l-2.4,-2.4zM557.8,195.1l2.4,2.4l-2.4,2.4l-2.4,-2.4zM571,195.8l2.4,2.4l-2.4,2.4l-2.4,-2.4zM580.8,191.3l2.4,2.4l-2.4,2.4l-2.4,-2.4zM559,200.1l2.4,2.4l-2.4,2.4l-2.4,-2.4zM567.2,200.8l2.4,2.4l-2.4,2.4l-2.4,-2.4zM562.2,204.3l2.4,2.4l-2.4,2.4l-2.4,-2.4zM549,203.8l2.4,2.4l-2.4,2.4l-2.4,-2.4zM572,206.3l2.4,2.4l-2.4,2.4l-2.4,-2.4zM562.8,213.1l2.4,2.4l-2.4,2.4l-2.4,-2.4zM566,214.3l2.4,2.4l-2.4,2.4l-2.4,-2.4zM574.8,217.1l2.4,2.4l-2.4,2.4l-2.4,-2.4zM594.8,215.1l2.4,2.4l-2.4,2.4l-2.4,-2.4zM591,219.3l2.4,2.4l-2.4,2.4l-2.4,-2.4zM539.5,222.6l2.4,2.4l-2.4,2.4l-2.4,-2.4zM537.8,225.8l2.4,2.4l-2.4,2.4l-2.4,-2.4zM541,225.8l2.4,2.4l-2.4,2.4l-2.4,-2.4zM549.5,227.1l2.4,2.4l-2.4,2.4l-2.4,-2.4zM552.2,225.8l2.4,2.4l-2.4,2.4l-2.4,-2.4zM572.8,227.1l2.4,2.4l-2.4,2.4l-2.4,-2.4zM592.8,235.1l2.4,2.4l-2.4,2.4l-2.4,-2.4zM597.2,235.1l2.4,2.4l-2.4,2.4l-2.4,-2.4zM587.2,236.8l2.4,2.4l-2.4,2.4l-2.4,-2.4zM585.2,238.3l2.4,2.4l-2.4,2.4l-2.4,-2.4zM577,238.3l2.4,2.4l-2.4,2.4l-2.4,-2.4zM564.8,240.6l2.4,2.4l-2.4,2.4l-2.4,-2.4zM555.2,245.1l2.4,2.4l-2.4,2.4l-2.4,-2.4zM553.2,248.3l2.4,2.4l-2.4,2.4l-2.4,-2.4zM613.2,250.6l2.4,2.4l-2.4,2.4l-2.4,-2.4zM592.8,256.4l2.4,2.4l-2.4,2.4l-2.4,-2.4zM599.8,263.4l2.4,2.4l-2.4,2.4l-2.4,-2.4zM587.8,269.4l2.4,2.4l-2.4,2.4l-2.4,-2.4zM605.2,270.1l2.4,2.4l-2.4,2.4l-2.4,-2.4zM579.8,274.6l2.4,2.4l-2.4,2.4l-2.4,-2.4zM562,276.4l2.4,2.4l-2.4,2.4l-2.4,-2.4zM544.5,281.4l2.4,2.4l-2.4,2.4l-2.4,-2.4zM539.5,283.4l2.4,2.4l-2.4,2.4l-2.4,-2.4zM542.8,285.1l2.4,2.4l-2.4,2.4l-2.4,-2.4zM579,288.9l2.4,2.4l-2.4,2.4l-2.4,-2.4zM555.8,293.4l2.4,2.4l-2.4,2.4l-2.4,-2.4zM556.5,296.4l2.4,2.4l-2.4,2.4l-2.4,-2.4zM573.2,299.6l2.4,2.4l-2.4,2.4l-2.4,-2.4zM632.8,189.3l2.4,2.4l-2.4,2.4l-2.4,-2.4zM647.8,207.1l2.4,2.4l-2.4,2.4l-2.4,-2.4zM669,144.6l2.4,2.4l-2.4,2.4l-2.4,-2.4zM669.8,147.1l2.4,2.4l-2.4,2.4l-2.4,-2.4zM683.5,144.6l2.4,2.4l-2.4,2.4l-2.4,-2.4zM671.5,155.6l2.4,2.4l-2.4,2.4l-2.4,-2.4zM676,157.6l2.4,2.4l-2.4,2.4l-2.4,-2.4zM682.8,155.8l2.4,2.4l-2.4,2.4l-2.4,-2.4zM686.5,157.1l2.4,2.4l-2.4,2.4l-2.4,-2.4zM666.5,169.6l2.4,2.4l-2.4,2.4l-2.4,-2.4zM677,173.8l2.4,2.4l-2.4,2.4l-2.4,-2.4zM681,265.6l2.4,2.4l-2.4,2.4l-2.4,-2.4zM674.8,274.6l2.4,2.4l-2.4,2.4l-2.4,-2.4zM626.5,280.9l2.4,2.4l-2.4,2.4l-2.4,-2.4zM624,283.9l2.4,2.4l-2.4,2.4l-2.4,-2.4zM618.5,298.9l2.4,2.4l-2.4,2.4l-2.4,-2.4zM626,300.6l2.4,2.4l-2.4,2.4l-2.4,-2.4zM659,300.1l2.4,2.4l-2.4,2.4l-2.4,-2.4zM672.2,296.4l2.4,2.4l-2.4,2.4l-2.4,-2.4zM670.2,299.6l2.4,2.4l-2.4,2.4l-2.4,-2.4zM424,268.9l2.4,2.4l-2.4,2.4l-2.4,-2.4zM708,132.6l2.4,2.4l-2.4,2.4l-2.4,-2.4zM708,135.1l2.4,2.4l-2.4,2.4l-2.4,-2.4zM739.2,127.1l2.4,2.4l-2.4,2.4l-2.4,-2.4zM741.2,128.1l2.4,2.4l-2.4,2.4l-2.4,-2.4zM775,140.6l2.4,2.4l-2.4,2.4l-2.4,-2.4zM712.2,150.6l2.4,2.4l-2.4,2.4l-2.4,-2.4zM703,156.8l2.4,2.4l-2.4,2.4l-2.4,-2.4zM689.2,158.3l2.4,2.4l-2.4,2.4l-2.4,-2.4zM776.8,152.1l2.4,2.4l-2.4,2.4l-2.4,-2.4zM779.2,159.6l2.4,2.4l-2.4,2.4l-2.4,-2.4zM781,162.1l2.4,2.4l-2.4,2.4l-2.4,-2.4zM788.8,165.6l2.4,2.4l-2.4,2.4l-2.4,-2.4zM752.2,160.8l2.4,2.4l-2.4,2.4l-2.4,-2.4zM755,161.3l2.4,2.4l-2.4,2.4l-2.4,-2.4zM757.5,163.1l2.4,2.4l-2.4,2.4l-2.4,-2.4zM764.2,163.3l2.4,2.4l-2.4,2.4l-2.4,-2.4zM736,163.3l2.4,2.4l-2.4,2.4l-2.4,-2.4zM715,171.3l2.4,2.4l-2.4,2.4l-2.4,-2.4zM690,175.6l2.4,2.4l-2.4,2.4l-2.4,-2.4zM761.8,177.1l2.4,2.4l-2.4,2.4l-2.4,-2.4zM763.8,179.3l2.4,2.4l-2.4,2.4l-2.4,-2.4zM715,180.1l2.4,2.4l-2.4,2.4l-2.4,-2.4zM709.2,182.1l2.4,2.4l-2.4,2.4l-2.4,-2.4zM752.5,182.6l2.4,2.4l-2.4,2.4l-2.4,-2.4zM697.2,186.3l2.4,2.4l-2.4,2.4l-2.4,-2.4zM694.2,190.1l2.4,2.4l-2.4,2.4l-2.4,-2.4zM695,193.1l2.4,2.4l-2.4,2.4l-2.4,-2.4zM708.8,190.6l2.4,2.4l-2.4,2.4l-2.4,-2.4zM712.2,192.6l2.4,2.4l-2.4,2.4l-2.4,-2.4zM718.5,191.8l2.4,2.4l-2.4,2.4l-2.4,-2.4zM781,188.3l2.4,2.4l-2.4,2.4l-2.4,-2.4zM784.2,188.8l2.4,2.4l-2.4,2.4l-2.4,-2.4zM803.8,185.1l2.4,2.4l-2.4,2.4l-2.4,-2.4zM807.2,186.3l2.4,2.4l-2.4,2.4l-2.4,-2.4zM733,192.1l2.4,2.4l-2.4,2.4l-2.4,-2.4zM736,194.3l2.4,2.4l-2.4,2.4l-2.4,-2.4zM733.8,198.3l2.4,2.4l-2.4,2.4l-2.4,-2.4zM750.5,198.3l2.4,2.4l-2.4,2.4l-2.4,-2.4zM752.2,200.6l2.4,2.4l-2.4,2.4l-2.4,-2.4zM764.8,195.8l2.4,2.4l-2.4,2.4l-2.4,-2.4zM800,198.3l2.4,2.4l-2.4,2.4l-2.4,-2.4zM706.8,202.6l2.4,2.4l-2.4,2.4l-2.4,-2.4zM703,204.6l2.4,2.4l-2.4,2.4l-2.4,-2.4zM762.2,205.6l2.4,2.4l-2.4,2.4l-2.4,-2.4zM771.2,203.1l2.4,2.4l-2.4,2.4l-2.4,-2.4zM774.2,204.6l2.4,2.4l-2.4,2.4l-2.4,-2.4zM788.8,203.3l2.4,2.4l-2.4,2.4l-2.4,-2.4zM735,209.3l2.4,2.4l-2.4,2.4l-2.4,-2.4zM806.8,213.1l2.4,2.4l-2.4,2.4l-2.4,-2.4zM767.2,214.6l2.4,2.4l-2.4,2.4l-2.4,-2.4zM764.8,216.3l2.4,2.4l-2.4,2.4l-2.4,-2.4zM747.2,218.3l2.4,2.4l-2.4,2.4l-2.4,-2.4zM749.8,221.8l2.4,2.4l-2.4,2.4l-2.4,-2.4zM749.8,224.3l2.4,2.4l-2.4,2.4l-2.4,-2.4zM718.5,221.3l2.4,2.4l-2.4,2.4l-2.4,-2.4zM721,221.3l2.4,2.4l-2.4,2.4l-2.4,-2.4zM712.2,236.3l2.4,2.4l-2.4,2.4l-2.4,-2.4zM725,238.3l2.4,2.4l-2.4,2.4l-2.4,-2.4zM735,235.1l2.4,2.4l-2.4,2.4l-2.4,-2.4zM749.2,233.3l2.4,2.4l-2.4,2.4l-2.4,-2.4zM751.8,232.6l2.4,2.4l-2.4,2.4l-2.4,-2.4zM765,239.6l2.4,2.4l-2.4,2.4l-2.4,-2.4zM756.8,240.6l2.4,2.4l-2.4,2.4l-2.4,-2.4zM718.8,242.6l2.4,2.4l-2.4,2.4l-2.4,-2.4zM707.5,241.8l2.4,2.4l-2.4,2.4l-2.4,-2.4zM709.8,243.3l2.4,2.4l-2.4,2.4l-2.4,-2.4zM752.5,245.1l2.4,2.4l-2.4,2.4l-2.4,-2.4zM754.2,249.3l2.4,2.4l-2.4,2.4l-2.4,-2.4zM737.2,247.6l2.4,2.4l-2.4,2.4l-2.4,-2.4zM723,249.3l2.4,2.4l-2.4,2.4l-2.4,-2.4zM728,249.3l2.4,2.4l-2.4,2.4l-2.4,-2.4zM748.8,253.3l2.4,2.4l-2.4,2.4l-2.4,-2.4zM746,254.6l2.4,2.4l-2.4,2.4l-2.4,-2.4zM812.2,239.3l2.4,2.4l-2.4,2.4l-2.4,-2.4zM818,241.3l2.4,2.4l-2.4,2.4l-2.4,-2.4zM816.2,252.6l2.4,2.4l-2.4,2.4l-2.4,-2.4zM818,255.1l2.4,2.4l-2.4,2.4l-2.4,-2.4zM796,248.3l2.4,2.4l-2.4,2.4l-2.4,-2.4zM789.8,251.3l2.4,2.4l-2.4,2.4l-2.4,-2.4zM763,268.9l2.4,2.4l-2.4,2.4l-2.4,-2.4zM793.8,269.4l2.4,2.4l-2.4,2.4l-2.4,-2.4zM807.2,269.4l2.4,2.4l-2.4,2.4l-2.4,-2.4zM751,276.4l2.4,2.4l-2.4,2.4l-2.4,-2.4zM793.8,281.9l2.4,2.4l-2.4,2.4l-2.4,-2.4zM743.5,284.6l2.4,2.4l-2.4,2.4l-2.4,-2.4zM697.2,287.6l2.4,2.4l-2.4,2.4l-2.4,-2.4zM758.8,289.6l2.4,2.4l-2.4,2.4l-2.4,-2.4zM756.2,291.4l2.4,2.4l-2.4,2.4l-2.4,-2.4zM793,290.6l2.4,2.4l-2.4,2.4l-2.4,-2.4zM774.8,292.1l2.4,2.4l-2.4,2.4l-2.4,-2.4zM775.5,295.6l2.4,2.4l-2.4,2.4l-2.4,-2.4zM776.2,298.4l2.4,2.4l-2.4,2.4l-2.4,-2.4zM779.8,298.4l2.4,2.4l-2.4,2.4l-2.4,-2.4zM788.8,300.6l2.4,2.4l-2.4,2.4l-2.4,-2.4zM721,297.6l2.4,2.4l-2.4,2.4l-2.4,-2.4zM854.8,269.6l2.4,2.4l-2.4,2.4l-2.4,-2.4zM841,285.1l2.4,2.4l-2.4,2.4l-2.4,-2.4zM839.2,287.6l2.4,2.4l-2.4,2.4l-2.4,-2.4zM853.8,285.1l2.4,2.4l-2.4,2.4l-2.4,-2.4zM856,287.6l2.4,2.4l-2.4,2.4l-2.4,-2.4zM835.5,293.4l2.4,2.4l-2.4,2.4l-2.4,-2.4zM876.2,296.9l2.4,2.4l-2.4,2.4l-2.4,-2.4zM881.2,297.6l2.4,2.4l-2.4,2.4l-2.4,-2.4zM874.2,299.6l2.4,2.4l-2.4,2.4l-2.4,-2.4zM919.2,293.4l2.4,2.4l-2.4,2.4l-2.4,-2.4zM931.2,301.4l2.4,2.4l-2.4,2.4l-2.4,-2.4zM266.2,310.9l2.4,2.4l-2.4,2.4l-2.4,-2.4zM271.8,310.9l2.4,2.4l-2.4,2.4l-2.4,-2.4zM305,310.4l2.4,2.4l-2.4,2.4l-2.4,-2.4zM320.8,309.9l2.4,2.4l-2.4,2.4l-2.4,-2.4zM324.2,309.9l2.4,2.4l-2.4,2.4l-2.4,-2.4zM344.5,309.9l2.4,2.4l-2.4,2.4l-2.4,-2.4zM348,309.9l2.4,2.4l-2.4,2.4l-2.4,-2.4zM344.5,317.1l2.4,2.4l-2.4,2.4l-2.4,-2.4zM320.8,326.6l2.4,2.4l-2.4,2.4l-2.4,-2.4zM332,325.4l2.4,2.4l-2.4,2.4l-2.4,-2.4zM360,329.9l2.4,2.4l-2.4,2.4l-2.4,-2.4zM351.8,336.6l2.4,2.4l-2.4,2.4l-2.4,-2.4zM356.8,347.4l2.4,2.4l-2.4,2.4l-2.4,-2.4zM349.2,363.4l2.4,2.4l-2.4,2.4l-2.4,-2.4zM387,371.6l2.4,2.4l-2.4,2.4l-2.4,-2.4zM388,373.6l2.4,2.4l-2.4,2.4l-2.4,-2.4zM350.8,390.4l2.4,2.4l-2.4,2.4l-2.4,-2.4zM300.8,403.4l2.4,2.4l-2.4,2.4l-2.4,-2.4zM306.2,403.4l2.4,2.4l-2.4,2.4l-2.4,-2.4zM354.2,403.6l2.4,2.4l-2.4,2.4l-2.4,-2.4zM353,408.6l2.4,2.4l-2.4,2.4l-2.4,-2.4zM310.8,418.4l2.4,2.4l-2.4,2.4l-2.4,-2.4zM331.2,416.6l2.4,2.4l-2.4,2.4l-2.4,-2.4zM330.8,422.4l2.4,2.4l-2.4,2.4l-2.4,-2.4zM338,420.4l2.4,2.4l-2.4,2.4l-2.4,-2.4zM375,416.6l2.4,2.4l-2.4,2.4l-2.4,-2.4zM372,428.6l2.4,2.4l-2.4,2.4l-2.4,-2.4zM378,438.4l2.4,2.4l-2.4,2.4l-2.4,-2.4zM280,450.4l2.4,2.4l-2.4,2.4l-2.4,-2.4zM387,442.4l2.4,2.4l-2.4,2.4l-2.4,-2.4zM388.8,444.1l2.4,2.4l-2.4,2.4l-2.4,-2.4zM413,438.6l2.4,2.4l-2.4,2.4l-2.4,-2.4zM413,444.6l2.4,2.4l-2.4,2.4l-2.4,-2.4zM376.2,461.1l2.4,2.4l-2.4,2.4l-2.4,-2.4zM393,460.4l2.4,2.4l-2.4,2.4l-2.4,-2.4zM368.2,465.9l2.4,2.4l-2.4,2.4l-2.4,-2.4zM360.8,466.6l2.4,2.4l-2.4,2.4l-2.4,-2.4zM360.8,472.9l2.4,2.4l-2.4,2.4l-2.4,-2.4zM387,466.6l2.4,2.4l-2.4,2.4l-2.4,-2.4zM415.8,465.4l2.4,2.4l-2.4,2.4l-2.4,-2.4zM423.2,460.9l2.4,2.4l-2.4,2.4l-2.4,-2.4zM388.8,476.1l2.4,2.4l-2.4,2.4l-2.4,-2.4zM383.2,480.4l2.4,2.4l-2.4,2.4l-2.4,-2.4zM384.2,483.6l2.4,2.4l-2.4,2.4l-2.4,-2.4zM396.8,474.9l2.4,2.4l-2.4,2.4l-2.4,-2.4zM398.8,477.4l2.4,2.4l-2.4,2.4l-2.4,-2.4zM410,480.4l2.4,2.4l-2.4,2.4l-2.4,-2.4zM405.8,492.4l2.4,2.4l-2.4,2.4l-2.4,-2.4zM410.8,491.6l2.4,2.4l-2.4,2.4l-2.4,-2.4zM409.2,497.4l2.4,2.4l-2.4,2.4l-2.4,-2.4zM350.8,502.9l2.4,2.4l-2.4,2.4l-2.4,-2.4zM360.8,502.9l2.4,2.4l-2.4,2.4l-2.4,-2.4zM395,303.6l2.4,2.4l-2.4,2.4l-2.4,-2.4zM400,308.4l2.4,2.4l-2.4,2.4l-2.4,-2.4zM406.8,309.1l2.4,2.4l-2.4,2.4l-2.4,-2.4zM408.8,305.4l2.4,2.4l-2.4,2.4l-2.4,-2.4zM389.2,330.4l2.4,2.4l-2.4,2.4l-2.4,-2.4zM407.5,330.4l2.4,2.4l-2.4,2.4l-2.4,-2.4zM422.5,348.4l2.4,2.4l-2.4,2.4l-2.4,-2.4zM414.2,361.6l2.4,2.4l-2.4,2.4l-2.4,-2.4zM420,369.1l2.4,2.4l-2.4,2.4l-2.4,-2.4zM419.2,375.4l2.4,2.4l-2.4,2.4l-2.4,-2.4zM410,387.4l2.4,2.4l-2.4,2.4l-2.4,-2.4zM494.8,309.1l2.4,2.4l-2.4,2.4l-2.4,-2.4zM498.2,314.1l2.4,2.4l-2.4,2.4l-2.4,-2.4zM455.8,310.4l2.4,2.4l-2.4,2.4l-2.4,-2.4zM447,315.4l2.4,2.4l-2.4,2.4l-2.4,-2.4zM454,324.9l2.4,2.4l-2.4,2.4l-2.4,-2.4zM495.2,326.6l2.4,2.4l-2.4,2.4l-2.4,-2.4zM496,329.6l2.4,2.4l-2.4,2.4l-2.4,-2.4zM432.8,337.4l2.4,2.4l-2.4,2.4l-2.4,-2.4zM441,335.9l2.4,2.4l-2.4,2.4l-2.4,-2.4zM454.8,335.4l2.4,2.4l-2.4,2.4l-2.4,-2.4zM482,337.9l2.4,2.4l-2.4,2.4l-2.4,-2.4zM483.2,339.9l2.4,2.4l-2.4,2.4l-2.4,-2.4zM495.8,346.6l2.4,2.4l-2.4,2.4l-2.4,-2.4zM494,349.9l2.4,2.4l-2.4,2.4l-2.4,-2.4zM499.8,355.4l2.4,2.4l-2.4,2.4l-2.4,-2.4zM483.2,357.1l2.4,2.4l-2.4,2.4l-2.4,-2.4zM490.8,359.6l2.4,2.4l-2.4,2.4l-2.4,-2.4zM483.2,362.4l2.4,2.4l-2.4,2.4l-2.4,-2.4zM479.8,367.1l2.4,2.4l-2.4,2.4l-2.4,-2.4zM505.8,369.1l2.4,2.4l-2.4,2.4l-2.4,-2.4zM452.8,380.4l2.4,2.4l-2.4,2.4l-2.4,-2.4zM464.8,384.9l2.4,2.4l-2.4,2.4l-2.4,-2.4zM471.5,385.4l2.4,2.4l-2.4,2.4l-2.4,-2.4zM429,389.6l2.4,2.4l-2.4,2.4l-2.4,-2.4zM460.8,391.1l2.4,2.4l-2.4,2.4l-2.4,-2.4zM471.5,391.1l2.4,2.4l-2.4,2.4l-2.4,-2.4zM487.8,390.4l2.4,2.4l-2.4,2.4l-2.4,-2.4zM442,394.6l2.4,2.4l-2.4,2.4l-2.4,-2.4zM485.8,397.9l2.4,2.4l-2.4,2.4l-2.4,-2.4zM462.8,401.6l2.4,2.4l-2.4,2.4l-2.4,-2.4zM477.8,401.6l2.4,2.4l-2.4,2.4l-2.4,-2.4zM481,403.4l2.4,2.4l-2.4,2.4l-2.4,-2.4zM434,408.6l2.4,2.4l-2.4,2.4l-2.4,-2.4zM462.2,410.9l2.4,2.4l-2.4,2.4l-2.4,-2.4zM468.5,411.6l2.4,2.4l-2.4,2.4l-2.4,-2.4zM464,417.9l2.4,2.4l-2.4,2.4l-2.4,-2.4zM469,418.4l2.4,2.4l-2.4,2.4l-2.4,-2.4zM492.8,414.6l2.4,2.4l-2.4,2.4l-2.4,-2.4zM507.8,415.4l2.4,2.4l-2.4,2.4l-2.4,-2.4zM496,424.1l2.4,2.4l-2.4,2.4l-2.4,-2.4zM517,390.4l2.4,2.4l-2.4,2.4l-2.4,-2.4zM543.2,376.6l2.4,2.4l-2.4,2.4l-2.4,-2.4zM534.8,403.4l2.4,2.4l-2.4,2.4l-2.4,-2.4zM529,409.6l2.4,2.4l-2.4,2.4l-2.4,-2.4zM522.8,436.6l2.4,2.4l-2.4,2.4l-2.4,-2.4zM531,442.1l2.4,2.4l-2.4,2.4l-2.4,-2.4zM529.8,444.9l2.4,2.4l-2.4,2.4l-2.4,-2.4zM527.2,447.4l2.4,2.4l-2.4,2.4l-2.4,-2.4zM510.2,444.1l2.4,2.4l-2.4,2.4l-2.4,-2.4zM498.2,441.1l2.4,2.4l-2.4,2.4l-2.4,-2.4zM497.8,445.4l2.4,2.4l-2.4,2.4l-2.4,-2.4zM489.8,443.6l2.4,2.4l-2.4,2.4l-2.4,-2.4zM484.8,437.4l2.4,2.4l-2.4,2.4l-2.4,-2.4zM484,441.1l2.4,2.4l-2.4,2.4l-2.4,-2.4zM475.8,443.6l2.4,2.4l-2.4,2.4l-2.4,-2.4zM478.2,455.4l2.4,2.4l-2.4,2.4l-2.4,-2.4zM525.8,459.1l2.4,2.4l-2.4,2.4l-2.4,-2.4zM494,474.1l2.4,2.4l-2.4,2.4l-2.4,-2.4zM457,465.4l2.4,2.4l-2.4,2.4l-2.4,-2.4zM465.2,473.4l2.4,2.4l-2.4,2.4l-2.4,-2.4zM468.2,474.9l2.4,2.4l-2.4,2.4l-2.4,-2.4zM464.8,478.6l2.4,2.4l-2.4,2.4l-2.4,-2.4zM453.5,485.4l2.4,2.4l-2.4,2.4l-2.4,-2.4zM462,486.6l2.4,2.4l-2.4,2.4l-2.4,-2.4zM454,488.6l2.4,2.4l-2.4,2.4l-2.4,-2.4zM452,452.4l2.4,2.4l-2.4,2.4l-2.4,-2.4zM444.8,455.4l2.4,2.4l-2.4,2.4l-2.4,-2.4zM439.8,441.6l2.4,2.4l-2.4,2.4l-2.4,-2.4zM424.8,460.9l2.4,2.4l-2.4,2.4l-2.4,-2.4zM544.8,439.9l2.4,2.4l-2.4,2.4l-2.4,-2.4zM545.8,438.6l2.4,2.4l-2.4,2.4l-2.4,-2.4zM544.8,429.9l2.4,2.4l-2.4,2.4l-2.4,-2.4zM549.5,431.1l2.4,2.4l-2.4,2.4l-2.4,-2.4zM553.5,421.6l2.4,2.4l-2.4,2.4l-2.4,-2.4zM555.2,422.9l2.4,2.4l-2.4,2.4l-2.4,-2.4zM569,416.6l2.4,2.4l-2.4,2.4l-2.4,-2.4zM568.5,419.6l2.4,2.4l-2.4,2.4l-2.4,-2.4zM567.8,425.9l2.4,2.4l-2.4,2.4l-2.4,-2.4zM568.5,305.9l2.4,2.4l-2.4,2.4l-2.4,-2.4zM571.5,307.9l2.4,2.4l-2.4,2.4l-2.4,-2.4zM575.8,307.1l2.4,2.4l-2.4,2.4l-2.4,-2.4zM567.8,314.6l2.4,2.4l-2.4,2.4l-2.4,-2.4zM582.2,313.4l2.4,2.4l-2.4,2.4l-2.4,-2.4zM582.8,316.6l2.4,2.4l-2.4,2.4l-2.4,-2.4zM589,306.6l2.4,2.4l-2.4,2.4l-2.4,-2.4zM601,310.4l2.4,2.4l-2.4,2.4l-2.4,-2.4zM602,312.9l2.4,2.4l-2.4,2.4l-2.4,-2.4zM574,327.9l2.4,2.4l-2.4,2.4l-2.4,-2.4zM574.8,331.6l2.4,2.4l-2.4,2.4l-2.4,-2.4zM572.8,348.4l2.4,2.4l-2.4,2.4l-2.4,-2.4zM576,348.4l2.4,2.4l-2.4,2.4l-2.4,-2.4zM608.2,386.6l2.4,2.4l-2.4,2.4l-2.4,-2.4zM617.8,383.4l2.4,2.4l-2.4,2.4l-2.4,-2.4zM632,388.4l2.4,2.4l-2.4,2.4l-2.4,-2.4zM623.2,392.9l2.4,2.4l-2.4,2.4l-2.4,-2.4zM622.8,396.1l2.4,2.4l-2.4,2.4l-2.4,-2.4zM623.2,398.6l2.4,2.4l-2.4,2.4l-2.4,-2.4zM613.5,399.9l2.4,2.4l-2.4,2.4l-2.4,-2.4zM611,402.4l2.4,2.4l-2.4,2.4l-2.4,-2.4zM592,402.9l2.4,2.4l-2.4,2.4l-2.4,-2.4zM599.8,402.4l2.4,2.4l-2.4,2.4l-2.4,-2.4zM600.2,404.6l2.4,2.4l-2.4,2.4l-2.4,-2.4zM592.8,406.1l2.4,2.4l-2.4,2.4l-2.4,-2.4zM591,413.4l2.4,2.4l-2.4,2.4l-2.4,-2.4zM595.8,418.4l2.4,2.4l-2.4,2.4l-2.4,-2.4zM592,420.9l2.4,2.4l-2.4,2.4l-2.4,-2.4zM588.5,429.6l2.4,2.4l-2.4,2.4l-2.4,-2.4zM584.8,431.1l2.4,2.4l-2.4,2.4l-2.4,-2.4zM583.2,434.1l2.4,2.4l-2.4,2.4l-2.4,-2.4zM585.2,435.9l2.4,2.4l-2.4,2.4l-2.4,-2.4zM577.8,447.4l2.4,2.4l-2.4,2.4l-2.4,-2.4zM599,446.6l2.4,2.4l-2.4,2.4l-2.4,-2.4zM602.8,445.4l2.4,2.4l-2.4,2.4l-2.4,-2.4zM596.5,467.9l2.4,2.4l-2.4,2.4l-2.4,-2.4zM598.2,469.6l2.4,2.4l-2.4,2.4l-2.4,-2.4zM582,475.9l2.4,2.4l-2.4,2.4l-2.4,-2.4zM586.5,476.1l2.4,2.4l-2.4,2.4l-2.4,-2.4zM575.8,481.1l2.4,2.4l-2.4,2.4l-2.4,-2.4zM578.2,483.4l2.4,2.4l-2.4,2.4l-2.4,-2.4zM633.2,457.9l2.4,2.4l-2.4,2.4l-2.4,-2.4zM634,460.4l2.4,2.4l-2.4,2.4l-2.4,-2.4zM655.8,464.6l2.4,2.4l-2.4,2.4l-2.4,-2.4zM654.8,467.1l2.4,2.4l-2.4,2.4l-2.4,-2.4zM680.2,475.9l2.4,2.4l-2.4,2.4l-2.4,-2.4zM681,478.4l2.4,2.4l-2.4,2.4l-2.4,-2.4zM659,489.6l2.4,2.4l-2.4,2.4l-2.4,-2.4zM681,412.1l2.4,2.4l-2.4,2.4l-2.4,-2.4zM664.8,380.4l2.4,2.4l-2.4,2.4l-2.4,-2.4zM663.2,382.9l2.4,2.4l-2.4,2.4l-2.4,-2.4zM657,354.9l2.4,2.4l-2.4,2.4l-2.4,-2.4zM639.8,312.1l2.4,2.4l-2.4,2.4l-2.4,-2.4zM637.8,316.6l2.4,2.4l-2.4,2.4l-2.4,-2.4zM656,317.4l2.4,2.4l-2.4,2.4l-2.4,-2.4zM686,314.1l2.4,2.4l-2.4,2.4l-2.4,-2.4zM682.8,309.1l2.4,2.4l-2.4,2.4l-2.4,-2.4zM659,302.9l2.4,2.4l-2.4,2.4l-2.4,-2.4zM627.2,304.1l2.4,2.4l-2.4,2.4l-2.4,-2.4zM557.8,502.9l2.4,2.4l-2.4,2.4l-2.4,-2.4zM567.2,502.9l2.4,2.4l-2.4,2.4l-2.4,-2.4zM695,309.6l2.4,2.4l-2.4,2.4l-2.4,-2.4zM690,317.9l2.4,2.4l-2.4,2.4l-2.4,-2.4zM721,317.4l2.4,2.4l-2.4,2.4l-2.4,-2.4zM770.5,305.4l2.4,2.4l-2.4,2.4l-2.4,-2.4zM788.8,302.4l2.4,2.4l-2.4,2.4l-2.4,-2.4zM788.8,312.9l2.4,2.4l-2.4,2.4l-2.4,-2.4zM773,313.4l2.4,2.4l-2.4,2.4l-2.4,-2.4zM770,320.4l2.4,2.4l-2.4,2.4l-2.4,-2.4zM828,305.4l2.4,2.4l-2.4,2.4l-2.4,-2.4zM798.8,334.9l2.4,2.4l-2.4,2.4l-2.4,-2.4zM836.8,326.6l2.4,2.4l-2.4,2.4l-2.4,-2.4zM873.8,302.4l2.4,2.4l-2.4,2.4l-2.4,-2.4zM886,306.1l2.4,2.4l-2.4,2.4l-2.4,-2.4zM906,310.4l2.4,2.4l-2.4,2.4l-2.4,-2.4zM931.8,303.6l2.4,2.4l-2.4,2.4l-2.4,-2.4zM901,329.1l2.4,2.4l-2.4,2.4l-2.4,-2.4zM901,332.4l2.4,2.4l-2.4,2.4l-2.4,-2.4zM752.5,354.1l2.4,2.4l-2.4,2.4l-2.4,-2.4zM749.8,355.4l2.4,2.4l-2.4,2.4l-2.4,-2.4zM749.2,359.1l2.4,2.4l-2.4,2.4l-2.4,-2.4zM746,360.9l2.4,2.4l-2.4,2.4l-2.4,-2.4zM728.8,367.4l2.4,2.4l-2.4,2.4l-2.4,-2.4zM727.2,369.6l2.4,2.4l-2.4,2.4l-2.4,-2.4zM713.8,375.4l2.4,2.4l-2.4,2.4l-2.4,-2.4zM786,384.1l2.4,2.4l-2.4,2.4l-2.4,-2.4zM790,385.4l2.4,2.4l-2.4,2.4l-2.4,-2.4zM765,394.6l2.4,2.4l-2.4,2.4l-2.4,-2.4zM766,396.6l2.4,2.4l-2.4,2.4l-2.4,-2.4zM778.8,395.4l2.4,2.4l-2.4,2.4l-2.4,-2.4zM761.8,411.6l2.4,2.4l-2.4,2.4l-2.4,-2.4zM778.8,413.4l2.4,2.4l-2.4,2.4l-2.4,-2.4zM780.5,411.6l2.4,2.4l-2.4,2.4l-2.4,-2.4zM777.5,423.4l2.4,2.4l-2.4,2.4l-2.4,-2.4zM693.8,410.4l2.4,2.4l-2.4,2.4l-2.4,-2.4zM706,423.4l2.4,2.4l-2.4,2.4l-2.4,-2.4zM706,426.6l2.4,2.4l-2.4,2.4l-2.4,-2.4zM703.5,442.9l2.4,2.4l-2.4,2.4l-2.4,-2.4zM726.8,457.9l2.4,2.4l-2.4,2.4l-2.4,-2.4zM727.2,459.6l2.4,2.4l-2.4,2.4l-2.4,-2.4zM728.8,477.4l2.4,2.4l-2.4,2.4l-2.4,-2.4zM739.8,481.6l2.4,2.4l-2.4,2.4l-2.4,-2.4zM747.2,481.1l2.4,2.4l-2.4,2.4l-2.4,-2.4zM741,488.6l2.4,2.4l-2.4,2.4l-2.4,-2.4zM738,492.4l2.4,2.4l-2.4,2.4l-2.4,-2.4zM733,495.4l2.4,2.4l-2.4,2.4l-2.4,-2.4zM708.8,501.6l2.4,2.4l-2.4,2.4l-2.4,-2.4zM345,507.6l2.4,2.4l-2.4,2.4l-2.4,-2.4zM359.2,506.9l2.4,2.4l-2.4,2.4l-2.4,-2.4zM368,513.6l2.4,2.4l-2.4,2.4l-2.4,-2.4zM356.8,517.4l2.4,2.4l-2.4,2.4l-2.4,-2.4zM336.2,528.6l2.4,2.4l-2.4,2.4l-2.4,-2.4zM406.2,513.6l2.4,2.4l-2.4,2.4l-2.4,-2.4zM380,530.1l2.4,2.4l-2.4,2.4l-2.4,-2.4zM403.8,536.9l2.4,2.4l-2.4,2.4l-2.4,-2.4zM383,559.4l2.4,2.4l-2.4,2.4l-2.4,-2.4zM376.2,563.6l2.4,2.4l-2.4,2.4l-2.4,-2.4zM365.8,575.1l2.4,2.4l-2.4,2.4l-2.4,-2.4zM351.2,575.1l2.4,2.4l-2.4,2.4l-2.4,-2.4zM339.2,566.4l2.4,2.4l-2.4,2.4l-2.4,-2.4zM345,588.1l2.4,2.4l-2.4,2.4l-2.4,-2.4zM273,550.6l2.4,2.4l-2.4,2.4l-2.4,-2.4zM268,560.6l2.4,2.4l-2.4,2.4l-2.4,-2.4zM271.8,566.4l2.4,2.4l-2.4,2.4l-2.4,-2.4zM268.8,570.6l2.4,2.4l-2.4,2.4l-2.4,-2.4zM255,572.4l2.4,2.4l-2.4,2.4l-2.4,-2.4zM265,578.9l2.4,2.4l-2.4,2.4l-2.4,-2.4zM268,580.6l2.4,2.4l-2.4,2.4l-2.4,-2.4zM265,590.6l2.4,2.4l-2.4,2.4l-2.4,-2.4zM293,598.6l2.4,2.4l-2.4,2.4l-2.4,-2.4zM310.8,596.4l2.4,2.4l-2.4,2.4l-2.4,-2.4zM316.2,593.9l2.4,2.4l-2.4,2.4l-2.4,-2.4zM316.2,596.9l2.4,2.4l-2.4,2.4l-2.4,-2.4zM328,585.1l2.4,2.4l-2.4,2.4l-2.4,-2.4zM325,588.9l2.4,2.4l-2.4,2.4l-2.4,-2.4zM306.2,606.4l2.4,2.4l-2.4,2.4l-2.4,-2.4zM316.8,613.6l2.4,2.4l-2.4,2.4l-2.4,-2.4zM326.2,611.4l2.4,2.4l-2.4,2.4l-2.4,-2.4zM318,622.4l2.4,2.4l-2.4,2.4l-2.4,-2.4zM327,633.1l2.4,2.4l-2.4,2.4l-2.4,-2.4zM330,633.1l2.4,2.4l-2.4,2.4l-2.4,-2.4zM336.8,632.6l2.4,2.4l-2.4,2.4l-2.4,-2.4zM486,506.4l2.4,2.4l-2.4,2.4l-2.4,-2.4zM518.2,514.4l2.4,2.4l-2.4,2.4l-2.4,-2.4zM507,523.1l2.4,2.4l-2.4,2.4l-2.4,-2.4zM567,506.4l2.4,2.4l-2.4,2.4l-2.4,-2.4zM466.5,534.4l2.4,2.4l-2.4,2.4l-2.4,-2.4zM469,542.6l2.4,2.4l-2.4,2.4l-2.4,-2.4zM667.2,521.9l2.4,2.4l-2.4,2.4l-2.4,-2.4zM717.6,506.9l2.4,2.4l-2.4,2.4l-2.4,-2.4zM719.8,509.1l2.4,2.4l-2.4,2.4l-2.4,-2.4z" fill="#2e6878" stroke="#0a2a1c" stroke-width="1.5" stroke-linejoin="round"/>
<g font-weight="bold" font-size="26px" fill="#000">
<text x="210.2" y="42.7" textLength="664" lengthAdjust="spacing">STATUS OF AVAILABLE SULPHUR IN THE SOILS OF</text>
<text x="301.5" y="73.7" textLength="483" lengthAdjust="spacing">JALGAON DISTRICT, MAHARASHTRA</text>
</g>
<g id="north" stroke="#000" stroke-linejoin="round" stroke-linecap="round">
<path d="M983.6,110.5L982.2,122.6L986.8,120.3L991.6,122.3L990.3,110.5Z" fill="#fff" stroke-width="1.1"/>
<path d="M968.8,96.6L986.6,88.5L1004.6,95.4L987,111Z" fill="#fff" stroke-width="1.2"/>
<path d="M974,97.5l.1,0M978,99l.1,0M981,101.5l.1,0M984,103l.1,0M987,105.5l.1,0M990,103l.1,0M993,101l.1,0M996,98.5l.1,0M999,96.5l.1,0M986,99l.1,0M990,99.5l.1,0M982,97l.1,0M987,108l.1,0" fill="none" stroke-width="1.15"/>
<path d="M970.2,88.6L987,81L1005,87.2L987.8,101Z" fill="#fff" stroke-width="1.2"/>
<path d="M976,89.5l4,1.5M982,92.5l4,2.2M988,96l3,-1.5M992,92l4,-2M997,89.5l3,-1.2M984,89l3,1" fill="none" stroke-width="2"/>
<path d="M970,80.2L986.6,74L1005.5,79.6L987.9,92.6Z" fill="#fff" stroke-width="1.2"/>
<path d="M976,80.5q3,-1 5,1t5,0q2,2 0,4q3,1 5,-1M983,78q2,2 5,1M992,80q2,2 -1,4q3,2 6,-2M981,84q2,1 3,3" fill="none" stroke="#555" stroke-width="0.6"/>
<path d="M986.7,56.2L980.4,67L984.4,67L984.4,78.4L989.4,78.4L989.4,67L993.8,67Z" fill="#fff" stroke-width="1.1"/>
</g>
<text x="976.5" y="54" font-size="24px" font-style="italic" fill="#000" textLength="19" lengthAdjust="spacingAndGlyphs">N</text>
<path d="M26.5,771V779.5H252.5V771M139.5,773.5V779.5" fill="none" stroke="#000" stroke-width="1"/>
<g font-size="13px" fill="#000" text-anchor="middle"><text x="25.2" y="763">0</text><text x="138.8" y="763">25</text><text x="251.7" y="763">50</text><text x="139.3" y="790.8">Kilometers</text></g>
<rect x="360" y="734" width="34.5" height="49" fill="#f8f8f8"/>
<g id="logo">
<circle cx="378.5" cy="753.7" r="15" fill="none" stroke="#5d8f4d" stroke-width="0.7"/>
<path d="M361.6,735.9L375,765M364.1,735.7L376,764M367.1,735.6L377,762M370,735.4L377.8,758M386.6,735.9L379.6,758M389.5,735.9L380.6,762M392.1,736.1L381.6,764M394.6,736.2L382.6,765" fill="none" stroke="#2a8a2a" stroke-width="0.9"/>
<g fill="#1f7a1f"><ellipse cx="375.90000000000003" cy="748.6" rx="2.9" ry="1.45" transform="rotate(30 375.90000000000003 748.6)"/><ellipse cx="381.3" cy="748.6" rx="2.9" ry="1.45" transform="rotate(-30 381.3 748.6)"/><ellipse cx="375.90000000000003" cy="752.6" rx="3.5" ry="1.45" transform="rotate(30 375.90000000000003 752.6)"/><ellipse cx="381.3" cy="752.6" rx="3.5" ry="1.45" transform="rotate(-30 381.3 752.6)"/><ellipse cx="375.90000000000003" cy="756.6" rx="3.7" ry="1.45" transform="rotate(30 375.90000000000003 756.6)"/><ellipse cx="381.3" cy="756.6" rx="3.7" ry="1.45" transform="rotate(-30 381.3 756.6)"/><ellipse cx="375.90000000000003" cy="760.6" rx="3.4" ry="1.45" transform="rotate(30 375.90000000000003 760.6)"/><ellipse cx="381.3" cy="760.6" rx="3.4" ry="1.45" transform="rotate(-30 381.3 760.6)"/><ellipse cx="375.90000000000003" cy="764.4" rx="2.8" ry="1.45" transform="rotate(30 375.90000000000003 764.4)"/><ellipse cx="381.3" cy="764.4" rx="2.8" ry="1.45" transform="rotate(-30 381.3 764.4)"/><ellipse cx="378.6" cy="767" rx="2.4" ry="2"/><path d="M378.6,768L378.6,746M375.20000000000005,746.6l-1.2,-2.4M382.0,746.6l1.2,-2.4M378.6,746l0,-2.2M376.90000000000003,746l-.7,-2M380.3,746l.7,-2" stroke="#1f7a1f" stroke-width="0.9" fill="none"/></g>
<text x="378.5" y="775.4" font-size="4.6px" text-anchor="middle" fill="#2d6e3a" font-family="'Liberation Sans','Noto Sans Devanagari',sans-serif" textLength="16" lengthAdjust="spacingAndGlyphs">भाकृअनुप</text>
<text x="379.3" y="781.4" font-size="4.8px" font-weight="bold" text-anchor="middle" fill="#1e5a3a" font-family="'Liberation Serif',serif" textLength="13.6" lengthAdjust="spacingAndGlyphs">ICAR</text>
</g>
<g fill="#4aa32c" font-weight="bold">
<text x="491.5" y="747.2" font-size="11px" textLength="69.5" lengthAdjust="spacing">Prepared By</text>
<text x="435.5" y="761.5" font-size="10.2px" textLength="197" lengthAdjust="spacing">AICRP on Soil Test Crop Response</text>
</g>
<text x="391.6" y="778.8" font-size="14px" fill="#4aa32c" stroke="#4aa32c" stroke-width="0.65" textLength="288" lengthAdjust="spacing">Indian Institute of Soil Science, Bhopal</text>
<rect x="747.5" y="634.5" width="278.5" height="157" rx="4" ry="4" fill="#fff" stroke="#000" stroke-width="1.2"/>
<text x="754.3" y="658.6" font-size="20px" font-weight="bold" textLength="73.5" lengthAdjust="spacing">Legend</text>
<text x="754.2" y="693.5" font-size="19px" font-weight="bold" textLength="263" lengthAdjust="spacing">SULPHUR (mg/kg) (%AREA)</text>
<rect x="754" y="706.4" width="43" height="21.2" fill="#ff0000"/>
<rect x="754" y="735.2" width="43" height="21.2" fill="#ffff00"/>
<rect x="754" y="763.2" width="43" height="22.4" fill="#4ce600"/>
<g font-size="14.5px" fill="#000"><text x="804.7" y="722" textLength="117.6" lengthAdjust="spacing">&lt;10.0 (Low) (0%)</text><text x="804.7" y="751" textLength="170.7" lengthAdjust="spacing">10.0-15.0 (Medium) (4%)</text><text x="804.7" y="780.5" textLength="129" lengthAdjust="spacing">&gt;15.0 (High) (96%)</text></g>
<g><text transform="translate(202.3,175.5) rotate(38.9)" font-size="73.2px" font-weight="bold" fill="#000" fill-opacity="0.18" >AICRP-STCR, BHOPAL</text></g>
</svg>
</body></html>
